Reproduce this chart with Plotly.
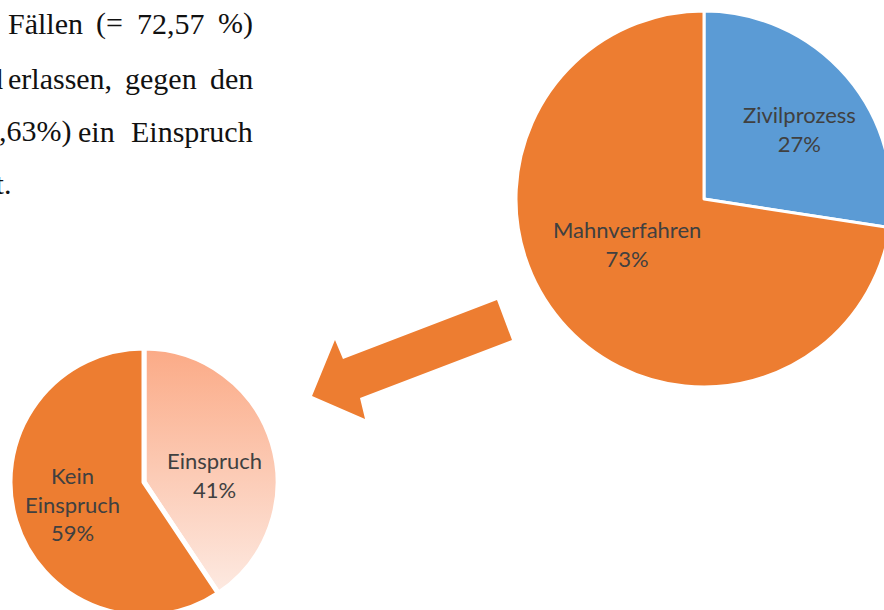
import plotly.graph_objects as go
import numpy as np

# Daten
big_labels = ["Zivilprozess", "Mahnverfahren"]
big_values = [27.43, 72.57]
big_colors = ["#5B9BD5", "#ED7D31"]

small_labels = ["Einspruch", "Kein Einspruch"]
small_values = [40.63, 59.37]

# Seitengeometrie (Pixel)
W, H = 900, 626
BIG_C, BIG_R = (704, 199), 188
SMALL_C, SMALL_R = (144, 482), 134

# Beschriftungsmitten (Pixel), wie im Excel-Diagramm
big_label_pos = [(799, 129), (627, 244)]
small_label_pos = [(214, 475), (72, 504)]

LABEL_FONT = dict(family="Lato, 'Open Sans', sans-serif", size=22, color="#404040")
SERIF = "'Liberation Serif', 'Times New Roman', serif"


def px_domain(center, r):
    cx, cy = center
    return dict(x=[(cx - r) / W, (cx + r) / W], y=[1 - (cy + r) / H, 1 - (cy - r) / H])


def px2paper(x, y):
    return x / W, 1 - y / H


fig = go.Figure()

# Farbverlauf fuer das Einspruch-Segment (liegt unter dem transparenten Kreissegment)
frac = small_values[0] / sum(small_values)
theta = np.linspace(0, 2 * np.pi * frac, 80)
wx = np.concatenate([[SMALL_C[0]], SMALL_C[0] + SMALL_R * np.sin(theta), [SMALL_C[0]]])
wy = np.concatenate([[H - SMALL_C[1]], (H - SMALL_C[1]) + SMALL_R * np.cos(theta), [H - SMALL_C[1]]])
fig.add_trace(go.Scatter(
    x=wx, y=wy, mode="lines", fill="toself",
    line=dict(width=0, color="rgba(0,0,0,0)"),
    fillgradient=dict(type="vertical",
                      colorscale=[[0, "rgb(253,234,226)"], [1, "rgb(251,170,134)"]]),
    hoverinfo="skip", showlegend=False,
))

fig.add_trace(go.Pie(
    labels=big_labels, values=big_values, sort=False, direction="clockwise", rotation=0,
    marker=dict(colors=big_colors, line=dict(color="white", width=3)),
    textinfo="none", domain=px_domain(BIG_C, BIG_R), showlegend=False,
    hoverinfo="label+percent",
))

fig.add_trace(go.Pie(
    labels=small_labels, values=small_values, sort=False,
    direction="clockwise", rotation=0,
    marker=dict(colors=["rgba(0,0,0,0)", "#ED7D31"], line=dict(color="white", width=5)),
    textinfo="none", domain=px_domain(SMALL_C, SMALL_R), showlegend=False,
    hoverinfo="label+percent",
))

# Datenbeschriftungen: Kategorie + Anteil
def add_pie_labels(labels, values, positions):
    total = sum(values)
    for lab, val, (x, y) in zip(labels, values, positions):
        ax, ay = px2paper(x, y)
        txt = lab.replace("Kein ", "Kein<br>") + "<br>{:.0f}%".format(100 * val / total)
        fig.add_annotation(x=ax, y=ay, xref="paper", yref="paper", text=txt,
                           showarrow=False, xanchor="center", yanchor="middle",
                           borderpad=0, font=LABEL_FONT)


add_pie_labels(big_labels, big_values, big_label_pos)
add_pie_labels(small_labels, small_values, small_label_pos)

# Textausschnitt oben links (Blocksatz, Woerter einzeln gesetzt)
text_lines = [
    (33, [("Fällen", 8, "left"), ("(=", 96, "left"), ("72,57", 137, "left"), ("%)", 253, "right")]),
    (88, [("Mahnbescheid", 3, "right"), ("erlassen,", 8, "left"), ("gegen", 125, "left"), ("den", 253, "right")]),
    (141, [(",63%)", -1, "left"), ("ein", 78, "left"), ("Einspruch", 253, "right")]),
    (193, [("eingelegt.", 11, "right")]),
]
for base, words in text_lines:
    for word, x, anchor in words:
        ax, ay = px2paper(x, base + 7)
        fig.add_annotation(x=ax, y=ay, xref="paper", yref="paper", text=word,
                           showarrow=False, xanchor=anchor, yanchor="bottom",
                           borderpad=0, borderwidth=0,
                           font=dict(family=SERIF, size=30, color="#111"))

# Blockpfeil
arrow_px = [(497, 300), (512, 340), (360, 398), (365, 419), (312, 396), (335, 340), (343, 359)]
path = "M " + " L ".join("{:.4f},{:.4f}".format(*px2paper(x, y)) for x, y in arrow_px) + " Z"
fig.add_shape(type="path", path=path, xref="paper", yref="paper",
              fillcolor="#ED7D31", line=dict(width=0), layer="above")

fig.update_layout(
    width=W, height=H,
    margin=dict(l=0, r=0, t=0, b=0),
    paper_bgcolor="white", plot_bgcolor="white",
    xaxis=dict(range=[0, W], visible=False, fixedrange=True),
    yaxis=dict(range=[0, H], visible=False, fixedrange=True),
)

fig.write_html("out.html", config={"displayModeBar": False},
               post_script="document.body.style.margin='0';document.body.style.overflow='hidden';")
